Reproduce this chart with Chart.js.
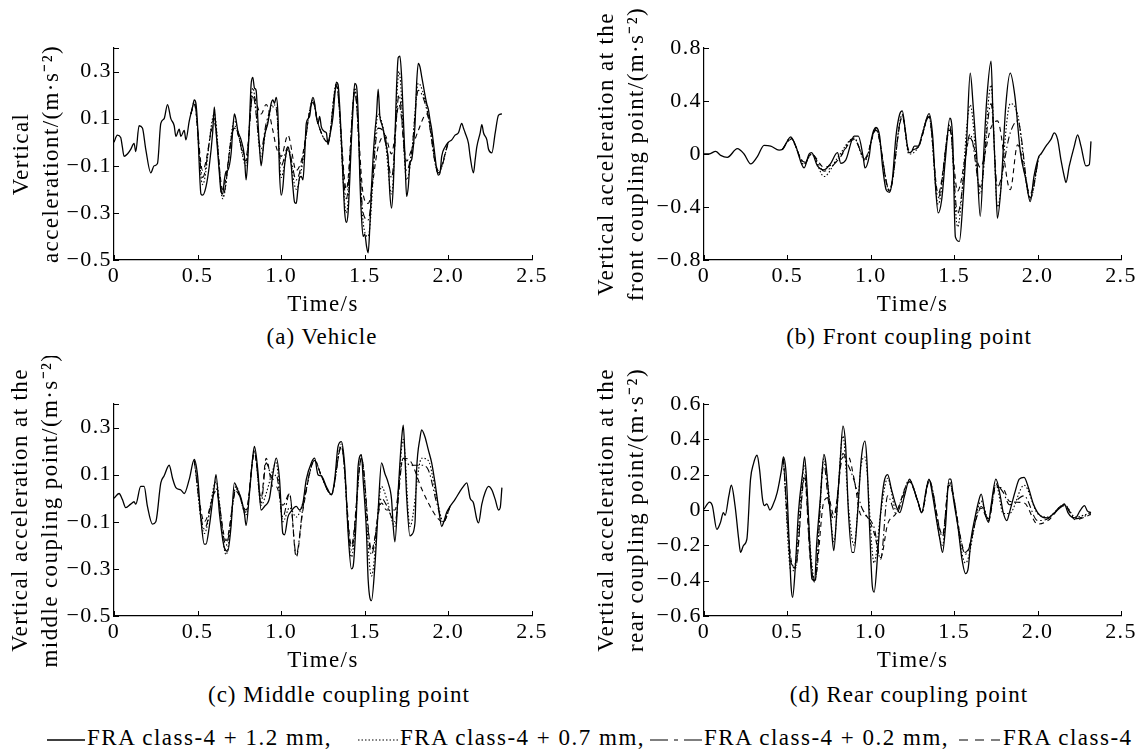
<!DOCTYPE html>
<html>
<head>
<meta charset="utf-8">
<script src="https://cdn.jsdelivr.net/npm/chart.js@4.4.1/dist/chart.umd.min.js"></script>
<style>
  body { margin: 0; background: #fff; width: 1141px; height: 749px; position: relative; overflow: hidden;
         font-family: "Liberation Serif", serif; color: #000; }
  canvas { position: absolute; }
  .cap { position: absolute; font-size: 23px; line-height: 26px; letter-spacing: 1px; white-space: nowrap; transform: translateX(-50%); }
  .leg { position: absolute; top: 725px; font-size: 23px; line-height: 26px; letter-spacing: 1.5px; white-space: nowrap; }
  .leg svg { vertical-align: middle; margin-right: 2px; }
</style>
</head>
<body>
<canvas id="chartA" width="560" height="320" style="left:0;top:0"></canvas>
<canvas id="chartB" width="571" height="320" style="left:570px;top:0"></canvas>
<canvas id="chartC" width="560" height="320" style="left:0;top:356px"></canvas>
<canvas id="chartD" width="571" height="320" style="left:570px;top:356px"></canvas>

<div class="cap" style="left:322px;top:324px">(a) Vehicle</div>
<div class="cap" style="left:909px;top:324px">(b) Front coupling point</div>
<div class="cap" style="left:339px;top:682px">(c) Middle coupling point</div>
<div class="cap" style="left:909px;top:682px">(d) Rear coupling point</div>

<div class="leg" style="left:47px"><svg width="38" height="10"><line x1="0" y1="5" x2="38" y2="5" stroke="#000" stroke-width="1.3"/></svg><span id="leg0"></span></div>
<div class="leg" style="left:358px"><svg width="40" height="10"><line x1="0" y1="5" x2="40" y2="5" stroke="#000" stroke-width="1.2" stroke-dasharray="1.5,2"/></svg><span id="leg1"></span></div>
<div class="leg" style="left:650px"><svg width="52" height="10"><line x1="0" y1="5" x2="52" y2="5" stroke="#000" stroke-width="1.2" stroke-dasharray="18,6,4,6"/></svg><span id="leg2"></span></div>
<div class="leg" style="left:959px"><svg width="42" height="10"><line x1="0" y1="5" x2="42" y2="5" stroke="#000" stroke-width="1.2" stroke-dasharray="9,7"/></svg><span id="leg3"></span></div>

<script>
// legend / series names
const seriesNames = ['FRA class-4 + 1.2 mm', 'FRA class-4 + 0.7 mm', 'FRA class-4 + 0.2 mm', 'FRA class-4'];
const legendText = ['FRA class-4 + 1.2 mm,', 'FRA class-4 + 0.7 mm,', 'FRA class-4 + 0.2 mm,', 'FRA class-4'];

// tick labels
const xTickVals = [0, 0.5, 1, 1.5, 2, 2.5];
const xTickText = ['0', '0.5', '1.0', '1.5', '2.0', '2.5'];
const yTicksAC = [-0.5, -0.3, -0.1, 0.1, 0.3];
const yTextAC = ['\u22120.5', '\u22120.3', '\u22120.1', '0.1', '0.3'];
const yTicksB = [-0.8, -0.4, 0, 0.4, 0.8];
const yTextB = ['\u22120.8', '\u22120.4', '0', '0.4', '0.8'];
const yTicksD = [-0.6, -0.4, -0.2, 0, 0.2, 0.4, 0.6];
const yTextD = ['\u22120.6', '\u22120.4', '\u22120.2', '0', '0.2', '0.4', '0.6'];

// (a) vehicle
const timeA = [0,0.02,0.04,0.05,0.06,0.08,0.10,0.12,0.13,0.15,0.17,0.19,
  0.22,0.24,0.26,0.28,0.30,0.32,0.34,0.36,0.37,0.39,
  0.40,0.42,0.43,0.45,0.47,0.48,0.49,0.50,0.51,0.52,
  0.53,0.55,0.57,0.59,0.60,0.61,0.63,0.64,0.65,0.66,
  0.67,0.68,0.70,0.71,0.72,0.73,0.74,0.76,0.78,0.79,
  0.80,0.81,0.82,0.83,0.84,0.85,0.86,0.87,0.88,0.89,
  0.90,0.92,0.94,0.95,0.96,0.97,0.98,0.99,
  1.00,1.01,1.02,1.03,1.04,1.05,1.06,1.07,1.08,1.09,
  1.10,1.11,1.12,1.13,1.14,1.15,
  1.17,1.18,1.19,1.20,1.21,1.22,1.23,1.24,
  1.26,1.27,1.28,1.29,
  1.31,1.32,1.33,1.34,1.35,1.36,1.37,1.38,1.39,
  1.40,1.41,1.42,1.43,1.44,1.45,1.46,1.47,1.48,1.49,
  1.50,1.51,1.52,1.53,1.54,1.55,1.56,1.57,1.58,1.59,
  1.60,1.61,1.62,1.63,1.64,1.65,1.66,1.67,1.68,1.69,
  1.70,1.71,1.72,1.73,1.74,1.75,1.76,1.77,1.78,1.79,
  1.80,1.81,1.82,1.83,1.84,1.85,1.86,1.87,1.88,1.89,
  1.90,1.91,1.92,1.93,1.94,1.95,1.96,
  1.98,2.00,2.02,2.04,2.06,2.08,2.09,2.10,
  2.12,2.13,2.15,2.16,2.17,2.19,2.20,2.21,2.23,2.24,
  2.26,2.28,2.30,2.32];
const solidA = [0,0.03,0.02,-0.02,-0.06,-0.05,-0.03,-0.005,-0.04,0.07,0.06,-0.03,
  -0.13,-0.1,-0.09,0.08,0.1,0.16,0.1,0.07,0.025,0.055,
  0.025,0.05,0.01,0.09,0.15,0.18,0.165,0.07,-0.1,-0.22,
  -0.225,-0.19,-0.1,0.04,0.15,0.05,-0.13,-0.21,-0.22,-0.16,
  -0.125,-0.12,-0.05,0.05,0.12,0.095,0.05,0.01,-0.06,-0.16,
  -0.075,0.08,0.245,0.275,0.23,0.22,0.1,-0.02,-0.1,-0.045,
  0.025,0.08,0.165,0.18,0.165,0.19,0.125,-0.13,
  -0.225,-0.19,-0.1,-0.045,-0.02,-0.045,-0.1,-0.19,-0.255,-0.26,
  -0.2,-0.15,-0.145,-0.16,-0.06,0.08,
  0.11,0.165,0.19,0.165,0.11,0.08,0.11,0.065,
  0.045,0.04,-0.01,0.025,
  0.11,0.195,0.255,0.245,0.15,0.01,-0.16,-0.3,-0.34,
  -0.3,-0.16,0.01,0.15,0.25,0.24,0.125,-0.145,-0.315,-0.4,
  -0.39,-0.44,-0.47,-0.36,-0.19,-0.06,0.04,0.115,0.225,0.11,
  0.08,0.055,0.01,-0.02,-0.075,-0.22,-0.28,-0.19,0.01,0.235,
  0.36,0.365,0.28,0.11,-0.06,-0.23,-0.19,-0.09,-0.075,-0.02,
  0.07,0.25,0.335,0.32,0.28,0.24,0.2,0.165,0.14,0.095,
  0.055,0,-0.06,-0.115,-0.14,-0.13,-0.06,
  -0.02,0,0.01,0.03,0.04,0.08,0.06,0.04,
  -0.005,-0.06,-0.13,-0.075,-0.02,0.04,0.075,0.04,0.01,-0.03,
  -0.045,0.04,0.115,0.12];
const timeVarA = [0.46,0.48,0.53,0.60,0.65,0.72,0.79,0.83,0.88,0.91,0.95,0.97,1.00,1.04,1.09,1.12,1.19,
  1.22,1.28,1.33,1.39,1.44,1.49,1.52,1.58,1.62,1.66,1.705,1.75,1.78,1.82,1.87,1.94,2.00];
const dotA = [0.12,0.17,-0.18,0.12,-0.24,0.09,-0.1,0.23,-0.06,0.06,0.16,0.15,-0.15,-0.03,-0.2,-0.12,0.18,
  0.08,0,0.25,-0.3,0.23,-0.34,-0.4,0.12,0.02,-0.22,0.3,-0.16,-0.05,0.25,0.15,-0.13,0];
const dashDotA = [0.12,0.17,-0.15,0.1,-0.23,0.07,-0.08,0.2,-0.03,0.08,0.15,0.14,-0.1,-0.02,-0.16,-0.1,0.17,
  0.08,0,0.24,-0.24,0.22,-0.3,-0.33,0.06,0.03,-0.15,0.2,-0.12,-0.04,0.22,0.14,-0.13,0];
const dashA = [0.12,0.16,-0.12,0.08,-0.2,0.06,-0.06,0.2,0.12,0.16,0.05,-0.02,-0.06,0.03,-0.12,-0.08,0.17,
  0.08,0,0.24,-0.2,0.21,-0.22,-0.26,-0.02,0.03,-0.05,0.16,-0.08,-0.03,0.05,0.12,-0.12,0];

// (b) front coupling point
const timeB = [0,0.03,0.07,0.10,0.14,0.20,0.24,0.28,0.32,0.36,
  0.40,0.45,0.47,0.52,0.55,0.60,0.63,0.645,0.68,0.72,
  0.76,0.80,0.82,0.85,0.90,0.925,0.954,0.965,0.99,1.004,
  1.031,1.053,1.07,1.092,1.112,1.129,1.151,1.173,1.189,1.206,
  1.228,1.246,1.261,1.283,1.311,1.349,1.371,1.388,1.404,1.425,
  1.447,1.474,1.491,1.507,1.531,1.553,1.575,1.596,1.614,1.634,
  1.656,1.678,1.695,1.721,1.732,1.75,1.759,1.781,1.809,1.836,
  1.864,1.897,1.93,1.956,1.978,2.007,2.02,2.05,2.08,2.10,
  2.12,2.14,2.16,2.17,2.19,2.22,2.24,2.26,2.29,2.31,
  2.32];
const solidB = [0,0,0.02,-0.01,-0.025,0.04,0,-0.075,-0.02,0.065,
  0.06,0.03,0.035,0.13,0.06,-0.105,0,0.01,-0.09,-0.12,
  -0.07,0.01,-0.07,-0.045,0.135,0.135,-0.02,-0.105,-0.02,0.115,
  0.2,0.135,-0.09,-0.27,-0.29,-0.195,0.135,0.3,0.325,0.185,
  0.01,0.02,0.06,0.06,0.16,0.305,0.135,-0.245,-0.445,-0.345,
  -0.04,0.27,0.11,-0.625,-0.66,-0.345,0.11,0.61,0.36,0.01,
  -0.47,0.03,0.41,0.7,0.31,-0.245,-0.485,-0.245,0.36,0.61,
  0.435,0.01,-0.195,-0.36,-0.17,-0.02,0,0.06,0.11,0.16,
  0.11,-0.045,-0.17,-0.215,-0.09,0.06,0.145,0.06,-0.09,-0.08,
  0.095];
const timeVarB = [0.47,0.52,0.6,0.645,0.72,0.8,0.90,0.965,1.031,1.112,1.189,1.228,1.283,1.349,1.404,1.474,
  1.52,1.596,1.656,1.721,1.759,1.836,1.88,1.956,2.007];
const dotB = [0.035,0.12,-0.08,0,-0.17,-0.03,0.12,-0.05,0.19,-0.28,0.3,0,0.05,0.29,-0.38,0.22,
  -0.55,0.37,-0.3,0.52,-0.4,0.38,0.3,-0.34,-0.02];
const dashDotB = [0.035,0.12,-0.07,0,-0.13,-0.05,0.12,-0.04,0.19,-0.27,0.29,0.03,0.05,0.28,-0.33,0.2,
  -0.45,0.15,-0.25,0.38,-0.25,0.16,0.25,-0.33,-0.02];
const dashB = [0.035,0.11,-0.06,0,-0.1,-0.05,0.11,-0.03,0.18,-0.28,0.28,0.03,0.05,0.28,-0.3,0.18,
  -0.28,0.12,-0.1,0.2,0.25,-0.27,0.07,-0.3,-0.02];

// (c) middle coupling point
const timeC = [0,0.03,0.05,0.07,0.10,0.12,0.13,0.16,0.18,0.20,
  0.23,0.25,0.28,0.30,0.33,0.35,0.37,0.40,0.42,0.45,
  0.48,0.50,0.52,0.54,0.55,0.57,0.60,0.61,0.63,0.66,
  0.68,0.70,0.72,0.74,0.76,0.78,0.79,0.81,0.83,0.84,
  0.86,0.88,0.90,0.93,0.95,0.97,0.99,1.01,1.02,1.04,
  1.06,1.09,1.11,1.13,1.15,1.18,1.20,1.22,1.24,1.27,
  1.30,1.32,1.34,1.36,1.38,1.40,1.42,1.43,1.45,1.46,
  1.48,1.49,1.51,1.52,1.54,1.56,1.58,1.60,1.62,1.64,
  1.66,1.67,1.68,1.70,1.72,1.73,1.74,1.75,1.77,1.78,
  1.80,1.81,1.83,1.84,1.86,1.88,1.90,1.92,1.94,1.96,
  1.97,1.99,2.01,2.04,2.07,2.09,2.11,2.13,2.15,2.17,
  2.18,2.20,2.22,2.24,2.26,2.28,2.30,2.31,2.32];
const solidC = [0,0.02,-0.005,-0.04,-0.025,-0.015,-0.025,0.05,0.05,-0.035,
  -0.11,-0.1,0.065,0.095,0.14,0.085,0.045,0.035,0.02,0.08,
  0.165,0.095,-0.09,-0.195,-0.195,-0.12,0.05,0.1,-0.06,-0.21,
  -0.225,-0.12,0.065,0.035,0,-0.065,-0.115,0.02,0.175,0.22,
  0.12,-0.05,-0.035,0,0.1,0.17,0.08,-0.15,-0.155,-0.08,
  -0.055,-0.035,-0.05,-0.02,0.08,0.15,0.17,0.1,0.095,0.05,
  0.015,0.08,0.22,0.24,0.135,-0.145,-0.3,-0.29,-0.065,0.135,
  0.185,0.08,-0.145,-0.345,-0.435,-0.29,-0.05,0.15,0.105,0.065,
  -0.005,-0.12,-0.185,0.035,0.25,0.31,0.18,0.01,-0.16,-0.155,
  -0.105,0.12,0.255,0.29,0.26,0.205,0.15,0.065,-0.035,-0.12,
  -0.105,-0.06,-0.035,-0.005,0.03,0.05,0.065,0,-0.02,-0.09,
  -0.105,-0.025,0.025,0.05,0.035,-0.005,-0.05,-0.04,0.045];
const timeVarC = [0.48,0.54,0.61,0.67,0.73,0.79,0.84,0.88,0.91,0.95,0.97,1.01,1.05,1.09,1.13,1.20,
  1.24,1.30,1.36,1.42,1.48,1.54,1.60,1.63,1.68,1.73,1.77,1.84,1.88,1.93,1.97,2.01];
const dotC = [0.16,-0.15,0.07,-0.24,0.05,-0.07,0.2,-0.03,0.02,0.12,0.15,-0.1,-0.04,-0.08,-0.02,0.16,
  0.095,0.015,0.23,-0.25,0.17,-0.33,0.05,0,-0.12,0.25,-0.12,0.17,0.16,0,-0.1,-0.035];
const dashDotC = [0.16,-0.13,0.04,-0.2,0.04,-0.06,0.2,-0.02,0.15,0.08,0.1,-0.08,0.02,-0.24,-0.04,0.16,
  0.095,0.015,0.22,-0.22,0.17,-0.24,0,-0.03,-0.1,0.17,0.14,0.14,0.12,-0.02,-0.1,-0.035];
const dashC = [0.16,-0.1,0.03,-0.18,0.03,-0.05,0.19,0,0.17,0.05,0.05,-0.03,0.02,-0.25,-0.05,0.16,
  0.095,0.015,0.22,-0.2,0.17,-0.22,-0.02,-0.05,-0.05,0.17,0.16,0.04,-0.02,-0.08,-0.1,-0.035];

// (d) rear coupling point
const timeD = [0,0.033,0.05,0.077,0.099,0.116,0.127,0.149,0.164,0.186,
  0.208,0.219,0.237,0.257,0.279,0.296,0.318,0.333,0.351,0.362,
  0.377,0.395,0.412,0.439,0.465,0.476,0.493,0.511,0.522,0.531,
  0.548,0.566,0.592,0.603,0.618,0.636,0.647,0.664,0.675,0.697,
  0.719,0.73,0.746,0.763,0.778,0.796,0.816,0.833,0.849,0.866,
  0.888,0.899,0.921,0.943,0.965,0.976,0.993,1.009,1.02,1.042,
  1.059,1.079,1.101,1.123,1.151,1.173,1.202,1.232,1.25,1.283,
  1.305,1.333,1.349,1.371,1.393,1.414,1.43,1.447,1.469,1.48,
  1.496,1.524,1.546,1.568,1.583,1.601,1.623,1.645,1.662,1.684,
  1.706,1.721,1.75,1.776,1.794,1.816,1.831,1.864,1.89,1.919,
  1.947,1.974,2.0,2.029,2.061,2.101,2.138,2.16,2.182,2.204,
  2.226,2.254,2.281,2.298,2.32];
const solidD = [0.005,0.045,0.025,-0.11,-0.07,-0.015,-0.03,0.08,0.14,0.025,
  -0.165,-0.24,-0.2,-0.165,0.175,0.26,0.31,0.23,0.06,0.025,
  0.035,0,0.025,0.1,0.23,0.3,0.195,-0.2,-0.43,-0.495,
  -0.315,-0.015,0.215,0.3,0.12,-0.22,-0.39,-0.4,-0.2,0.06,
  0.315,0.27,0.1,-0.09,-0.23,-0.015,0.27,0.475,0.365,-0.015,
  -0.24,-0.24,-0.015,0.29,0.39,0.29,-0.105,-0.43,-0.465,-0.24,
  -0.015,0.155,0.2,0.12,0.025,-0.015,0.08,0.175,0.14,0.045,
  -0.015,0.12,0.175,0.08,-0.05,-0.165,-0.24,-0.105,0.175,0.175,
  0.06,-0.105,-0.275,-0.36,-0.335,-0.165,-0.05,0.045,0.09,-0.015,
  -0.07,0.025,0.175,0.08,-0.015,-0.06,-0.015,0.1,0.175,0.185,
  0.12,0.035,-0.015,-0.04,-0.045,-0.015,0.015,0.035,-0.015,-0.04,
  -0.045,-0.005,0.025,-0.005,-0.015];
const timeVarD = [0.476,0.522,0.548,0.603,0.636,0.664,0.719,0.746,0.778,0.833,0.866,0.899,0.943,0.965,
  1.02,1.059,1.101,1.151,1.232,1.283,1.305,1.349,1.43,1.469,1.568,1.662,1.706,1.75,1.794,1.831,1.919,2.0,
  2.061,2.16,2.226,2.32];
const dotD = [0.29,-0.35,-0.3,0.25,-0.2,-0.4,0.29,0.12,-0.18,0.42,0.02,-0.2,0.26,0.3,
  -0.3,-0.02,0.18,0,0.17,0.045,-0.015,0.17,-0.2,0.16,-0.3,0.05,-0.05,0.15,-0.02,-0.02,0.14,-0.02,
  -0.04,0.03,-0.04,-0.015];
const dashDotD = [0.29,-0.3,-0.32,0.2,-0.25,-0.41,0.26,0.05,-0.05,0.32,0.25,0.17,0.02,-0.02,
  -0.1,-0.28,0.08,-0.02,0.16,0.045,-0.015,0.17,-0.15,0.15,-0.25,0.02,-0.05,0.14,0.1,0.03,0.08,-0.06,
  -0.05,0.03,-0.05,-0.02];
const dashD = [0.29,-0.28,-0.33,0.18,-0.27,-0.4,0.05,0.07,-0.03,0.3,0.3,0.18,-0.03,-0.03,
  -0.13,-0.27,-0.08,-0.02,0.16,0.045,-0.015,0.16,-0.14,0.14,-0.24,0.01,-0.06,0.13,0.12,0.05,0.04,-0.08,
  -0.06,0.025,-0.055,-0.025];

legendText.forEach((t, i) => { document.getElementById('leg' + i).textContent = t; });

const serif = 'Liberation Serif, serif';
Chart.defaults.font.family = serif;
Chart.defaults.color = '#000';

// ticks pointing into the plot, like the original figure
const innerTicks = {
    id: 'innerTicks',
    afterDatasetsDraw(chart) {
        const {ctx, chartArea, scales} = chart;
        const x = scales.x, y = scales.y;
        ctx.save();
        ctx.strokeStyle = '#000';
        ctx.lineWidth = 1;
        ctx.setLineDash([]);
        ctx.beginPath();
        x.ticks.forEach(t => {
            const px = Math.round(x.getPixelForValue(t.value)) + 0.5;
            ctx.moveTo(px, chartArea.bottom);
            ctx.lineTo(px, chartArea.bottom - 5);
        });
        y.ticks.map(t => t.value).concat([y.max]).forEach(v => {
            const py = Math.round(y.getPixelForValue(v)) + 0.5;
            ctx.moveTo(chartArea.left, py);
            ctx.lineTo(chartArea.left + 5, py);
        });
        ctx.stroke();
        ctx.restore();
    }
};

const letterSpacing = {
    id: 'letterSpacing',
    beforeDraw(chart) { chart.ctx.letterSpacing = '1.4px'; }
};

const lineStyles = [
    {borderDash: [], borderWidth: 1.3},
    {borderDash: [1.5, 2], borderWidth: 1.1},
    {borderDash: [7, 3, 1.5, 3], borderWidth: 1.1},
    {borderDash: [5, 4], borderWidth: 1.1}
];

function pts(ts, vs) {
    return ts.map((t, i) => ({x: t, y: vs[i]}));
}

function makePanel(id, p) {
    const ctx = document.getElementById(id).getContext('2d');
    const sets = [
        pts(p.time, p.solid),
        pts(p.timeVar, p.dot),
        pts(p.timeVar, p.dashDot),
        pts(p.timeVar, p.dash)
    ];
    return new Chart(ctx, {
        type: 'line',
        data: {
            datasets: sets.map((d, i) => ({
                label: seriesNames[i],
                data: d,
                borderColor: '#000',
                borderWidth: lineStyles[i].borderWidth,
                borderDash: lineStyles[i].borderDash,
                pointRadius: 0,
                fill: false,
                cubicInterpolationMode: 'monotone'
            }))
        },
        options: {
            responsive: false,
            animation: false,
            font: {family: serif},
            layout: {padding: {top: 48, right: p.rightPad, left: 0, bottom: 0}},
            plugins: {legend: {display: false}, tooltip: {enabled: false}},
            scales: {
                x: {
                    type: 'linear',
                    min: 0,
                    max: 2.5,
                    afterBuildTicks: s => { s.ticks = xTickVals.map(v => ({value: v})); },
                    afterFit: s => { s.height = 60; },
                    ticks: {
                        callback: (v, i) => xTickText[i],
                        padding: 3,
                        autoSkip: false,
                        maxRotation: 0,
                        color: '#000',
                        font: {family: serif, size: 22}
                    },
                    grid: {display: false, drawTicks: false},
                    border: {display: true, color: '#000', width: 1.2},
                    title: {
                        display: true,
                        text: 'Time/s',
                        color: '#000',
                        font: {family: serif, size: 23},
                        padding: {top: 0, bottom: 1}
                    }
                },
                y: {
                    type: 'linear',
                    min: p.yMin,
                    max: p.yMax,
                    afterBuildTicks: s => { s.ticks = p.yTicks.map(v => ({value: v})); },
                    afterFit: s => { s.width = p.yWidth; },
                    ticks: {
                        callback: (v, i) => p.yText[i],
                        padding: 2,
                        autoSkip: false,
                        color: '#000',
                        font: {family: serif, size: 22}
                    },
                    grid: {display: false, drawTicks: false},
                    border: {display: true, color: '#000', width: 1.2},
                    title: {
                        display: true,
                        text: p.yTitle,
                        color: '#000',
                        font: {family: serif, size: 23, lineHeight: 1.3},
                        padding: {top: p.titlePad, bottom: 0}
                    }
                }
            }
        },
        plugins: [innerTicks, letterSpacing]
    });
}

function drawAll() {
    makePanel('chartA', {
        time: timeA, solid: solidA, timeVar: timeVarA, dot: dotA, dashDot: dashDotA, dash: dashA,
        yMin: -0.5, yMax: 0.4, yTicks: yTicksAC, yText: yTextAC,
        yTitle: ['Vertical', 'accelerationt/(m\u00b7s\u207b\u00b2)'],
        titlePad: 7, yWidth: 114, rightPad: 28
    });
    makePanel('chartB', {
        time: timeB, solid: solidB, timeVar: timeVarB, dot: dotB, dashDot: dashDotB, dash: dashB,
        yMin: -0.8, yMax: 0.8, yTicks: yTicksB, yText: yTextB,
        yTitle: ['Vertical acceleration at the', 'front coupling point/(m\u00b7s\u207b\u00b2)'],
        titlePad: 22, yWidth: 134, rightPad: 20
    });
    makePanel('chartC', {
        time: timeC, solid: solidC, timeVar: timeVarC, dot: dotC, dashDot: dashDotC, dash: dashC,
        yMin: -0.5, yMax: 0.4, yTicks: yTicksAC, yText: yTextAC,
        yTitle: ['Vertical acceleration at the', 'middle coupling point/(m\u00b7s\u207b\u00b2)'],
        titlePad: 6, yWidth: 114, rightPad: 28
    });
    makePanel('chartD', {
        time: timeD, solid: solidD, timeVar: timeVarD, dot: dotD, dashDot: dashDotD, dash: dashD,
        yMin: -0.6, yMax: 0.6, yTicks: yTicksD, yText: yTextD,
        yTitle: ['Vertical acceleration at the', 'rear coupling point/(m\u00b7s\u207b\u00b2)'],
        titlePad: 22, yWidth: 134, rightPad: 20
    });
}

if (document.fonts && document.fonts.load) {
    document.fonts.load('22px "Liberation Serif"').then(drawAll, drawAll);
} else {
    drawAll();
}
</script>
</body>
</html>
